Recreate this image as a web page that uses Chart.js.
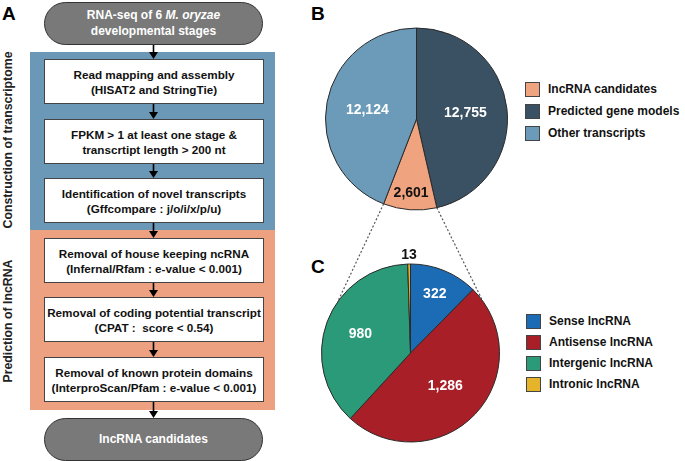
<!DOCTYPE html>
<html>
<head>
<meta charset="utf-8">
<script src="https://cdn.jsdelivr.net/npm/chart.js@4/dist/chart.umd.min.js"></script>
<style>
  html, body { margin:0; padding:0; background:#fff; }
  body { width:685px; height:461px; position:relative; overflow:hidden;
         font-family:"Liberation Sans", Arial, sans-serif; font-weight:bold; color:#111; }
  .panel { position:absolute; font-size:19px; font-weight:bold; color:#000; line-height:1; }
  .region { position:absolute; left:30px; width:245px; }
  .box { position:absolute; left:44px; width:218px; height:43px; background:#fff; border:1px solid #444;
         display:flex; align-items:center; justify-content:center; text-align:center;
         font-size:11.7px; line-height:15px; color:#111; }
  .pill { position:absolute; left:44px; width:217px; background:#797979; border:1px solid #333;
          display:flex; align-items:center; justify-content:center; text-align:center;
          font-size:12px; line-height:15.5px; color:#fff; }
  .vlabel { position:absolute; font-size:12.3px; color:#222; white-space:nowrap;
            transform:translate(-50%,-50%) rotate(-90deg); }
  .leg { position:absolute; font-size:12px; color:#111; white-space:nowrap; }
  .leg .sw { position:absolute; left:0; top:0; width:13px; height:13px; border:1px solid #444; }
  .leg .tx { position:absolute; left:23px; top:0; line-height:15px; }
  canvas { position:absolute; }
  svg { position:absolute; left:0; top:0; }
</style>
</head>
<body>
<div class="panel" style="left:2px;top:4px;">A</div>
<div class="panel" style="left:311px;top:4px;">B</div>
<div class="panel" style="left:311px;top:257px;">C</div>

<div class="region" style="top:52px;height:178px;background:#6b98b6;"></div>
<div class="region" style="top:230px;height:180px;background:#eda180;"></div>

<div class="vlabel" style="left:7.5px;top:140px;">Construction of transcriptome</div>
<div class="vlabel" style="left:7.5px;top:321px;">Prediction of lncRNA</div>

<div id="flow"></div>

<canvas id="pieB" width="191" height="190" style="left:321px;top:24px;"></canvas>
<canvas id="pieC" width="211" height="226" style="left:305px;top:240px;"></canvas>

<div id="legB"></div>
<div id="legC"></div>

<svg id="overlay" width="685" height="461"></svg>

<script>
// ---------- data ----------
const flowStart = 'RNA-seq of 6 <i>M. oryzae</i><br>developmental stages';
const flowSteps = [
  'Read mapping and assembly<br>(HISAT2 and StringTie)',
  'FPKM &gt; 1 at least one stage &amp;<br>transcrtipt length &gt; 200 nt',
  'Identification of novel transcripts<br>(Gffcompare : j/o/i/x/p/u)',
  'Removal of house keeping ncRNA<br>(Infernal/Rfam : e-value &lt; 0.001)',
  'Removal of coding potential transcript<br>(CPAT :&nbsp; score &lt; 0.54)',
  'Removal of known protein domains<br>(InterproScan/Pfam : e-value &lt; 0.001)'
];
const flowEnd = 'lncRNA candidates';

const pieBCategories = ['Predicted gene models', 'lncRNA candidates', 'Other transcripts'];
const pieBValues = [12755, 2601, 12124];
const pieBLegendOrder = ['lncRNA candidates', 'Predicted gene models', 'Other transcripts'];

const pieCCategories = ['Sense lncRNA', 'Antisense lncRNA', 'Intergenic lncRNA', 'Intronic lncRNA'];
const pieCValues = [322, 1286, 980, 13];

// ---------- styles ----------
const pieBColors = ['#3a5063', '#f0a37f', '#6c9bba'];
const pieCColors = ['#1b6bb5', '#a81f28', '#2a9a78', '#e6b42a'];

// ---------- flowchart ----------
const flow = document.getElementById('flow');
const boxTops = [59, 119, 178, 238, 297, 357];
function add(html, cls, top, h) {
  const d = document.createElement('div');
  d.className = cls; d.style.top = top + 'px'; if (h) d.style.height = h + 'px';
  if (cls === 'pill') d.style.borderRadius = (h / 2 + 1) + 'px';
  d.innerHTML = '<div>' + html + '</div>'; flow.appendChild(d); return d;
}
add(flowStart, 'pill', 2, 41);
flowSteps.forEach((s, i) => add(s, 'box', boxTops[i]));
add(flowEnd, 'pill', 418, 41);

const svg = document.getElementById('overlay');
const NS = 'http://www.w3.org/2000/svg';
function el(name, attrs) {
  const e = document.createElementNS(NS, name);
  for (const k in attrs) e.setAttribute(k, attrs[k]);
  svg.appendChild(e); return e;
}
const arrowX = 153.5;
const arrowSpans = [[45, 59]];
for (let i = 0; i < boxTops.length; i++) {
  const from = boxTops[i] + 45;
  const to = i + 1 < boxTops.length ? boxTops[i + 1] : 418;
  arrowSpans.push([from, to]);
}
arrowSpans.forEach(([a, b]) => {
  el('line', {x1: arrowX, y1: a, x2: arrowX, y2: b - 5, stroke: '#000', 'stroke-width': 1.6});
  el('polygon', {points: `${arrowX - 4.5},${b - 7} ${arrowX + 4.5},${b - 7} ${arrowX},${b}`, fill: '#000'});
});

// ---------- pie label plugin ----------
const sliceLabels = {
  id: 'sliceLabels',
  afterDatasetsDraw(chart, args, opts) {
    const ctx = chart.ctx;
    const meta = chart.getDatasetMeta(0);
    const data = chart.data.datasets[0].data;
    meta.data.forEach((arc, i) => {
      const p = arc.getProps(['x', 'y', 'startAngle', 'endAngle', 'outerRadius'], true);
      const mid = (p.startAngle + p.endAngle) / 2;
      const r = p.outerRadius * opts.radial[i];
      ctx.save();
      ctx.font = opts.font;
      ctx.fillStyle = opts.colors[i];
      ctx.textAlign = 'center';
      ctx.textBaseline = 'middle';
      ctx.fillText(data[i].toLocaleString('en-US'), p.x + Math.cos(mid) * r, p.y + Math.sin(mid) * r);
      ctx.restore();
    });
  }
};

function makePie(id, labels, values, colors, radius, labelOpts) {
  return new Chart(document.getElementById(id), {
    type: 'pie',
    data: { labels, datasets: [{ data: values, backgroundColor: colors, borderColor: '#2a2a2a', borderWidth: 1 }] },
    options: {
      responsive: false, animation: false, radius: radius,
      layout: { padding: 0 },
      plugins: { legend: { display: false }, tooltip: { enabled: false }, sliceLabels: labelOpts }
    },
    plugins: [sliceLabels]
  });
}

const chartB = makePie('pieB', pieBCategories, pieBValues, pieBColors, 91, {
  radial: [0.54, 0.82, 0.55],
  colors: ['#fff', '#111', '#fff'],
  font: 'bold 14px "Liberation Sans", Arial, sans-serif'
});
const chartC = makePie('pieC', pieCCategories, pieCValues, pieCColors, 89, {
  radial: [0.72, 0.54, 0.6, 1.1],
  colors: ['#fff', '#fff', '#fff', '#111'],
  font: 'bold 14px "Liberation Sans", Arial, sans-serif'
});

// ---------- legends ----------
function legend(hostId, names, chart, left, top, step) {
  const host = document.getElementById(hostId);
  const labels = chart.data.labels;
  const colors = chart.data.datasets[0].backgroundColor;
  names.forEach((n, i) => {
    const d = document.createElement('div');
    d.className = 'leg';
    d.style.left = left + 'px';
    d.style.top = (top + i * step) + 'px';
    d.innerHTML = `<div class="sw" style="background:${colors[labels.indexOf(n)]}"></div><div class="tx">${n}</div>`;
    host.appendChild(d);
  });
}
legend('legB', pieBLegendOrder, chartB, 525, 82, 22);
legend('legC', pieCCategories, chartC, 526, 313.5, 21.2);

// ---------- dotted connectors (from chart geometry) ----------
const canvB = document.getElementById('pieB'), canvC = document.getElementById('pieC');
const arcB = chartB.getDatasetMeta(0).data[pieBCategories.indexOf('lncRNA candidates')];
const pB = arcB.getProps(['x', 'y', 'startAngle', 'endAngle', 'outerRadius'], true);
const arcC = chartC.getDatasetMeta(0).data[0].getProps(['x', 'y', 'outerRadius'], true);
const bx = canvB.offsetLeft + pB.x, by = canvB.offsetTop + pB.y;
const cx = canvC.offsetLeft + arcC.x, cy = canvC.offsetTop + arcC.y;
const deg = Math.PI / 180;
const startR = [bx + Math.cos(pB.startAngle) * pB.outerRadius, by + Math.sin(pB.startAngle) * pB.outerRadius];
const startL = [bx + Math.cos(pB.endAngle) * pB.outerRadius, by + Math.sin(pB.endAngle) * pB.outerRadius];
const endL = [cx + Math.cos(215 * deg) * arcC.outerRadius, cy + Math.sin(215 * deg) * arcC.outerRadius];
const endR = [cx + Math.cos(-36 * deg) * arcC.outerRadius, cy + Math.sin(-36 * deg) * arcC.outerRadius];
[[startL, endL], [startR, endR]].forEach(([a, b]) => {
  el('line', {x1: a[0], y1: a[1], x2: b[0], y2: b[1], stroke: '#555', 'stroke-width': 1.2, 'stroke-dasharray': '2,2'});
});
</script>
</body>
</html>
